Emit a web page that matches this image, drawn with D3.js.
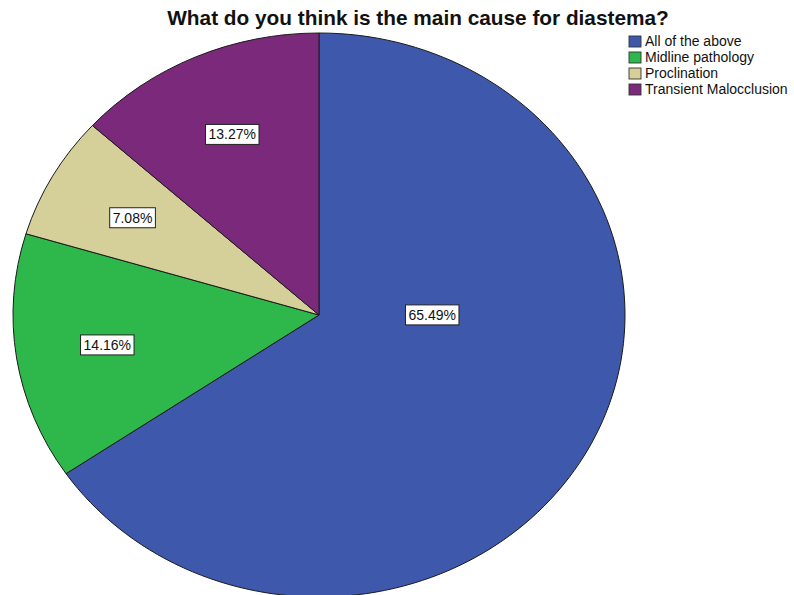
<!DOCTYPE html>
<html>
<head>
<meta charset="utf-8">
<script src="https://cdn.jsdelivr.net/npm/d3@7"></script>
<style>
  html, body { margin: 0; padding: 0; background: #fff; }
  svg { display: block; }
  text { font-family: "Liberation Sans", Arial, sans-serif; }
</style>
</head>
<body>
<svg id="chart" width="794" height="595"></svg>
<script>
// Survey answers: main cause of diastema (percent of respondents)
const categories = ["All of the above", "Midline pathology", "Proclination", "Transient Malocclusion"];
const percentages = [65.49, 14.16, 7.08, 13.27];
const colors = ["#3e58ab", "#2eb84b", "#d5cf9a", "#7b2a7b"];
const title = "What do you think is the main cause for diastema?";

const cx = 319, cy = 315;       // pie centre
const rx = 306, ry = 282;       // slightly oval pie

const svg = d3.select("#chart");

svg.append("text")
  .attr("x", 418).attr("y", 25)
  .attr("text-anchor", "middle")
  .attr("font-size", 20.8).attr("font-weight", "bold")
  .attr("fill", "#111")
  .text(title);

const data = categories.map((c, i) => ({ name: c, value: percentages[i], color: colors[i] }));

const pie = d3.pie().sort(null).value(d => d.value).startAngle(0).endAngle(2 * Math.PI);
const arcs = pie(data);
const arc = d3.arc().innerRadius(0).outerRadius(rx);

const pieG = svg.append("g")
  .attr("transform", `translate(${cx},${cy}) scale(1,${ry / rx})`);

pieG.selectAll("path")
  .data(arcs)
  .enter().append("path")
  .attr("d", arc)
  .attr("fill", d => d.data.color)
  .attr("stroke", "#1a1a1a")
  .attr("stroke-width", 1)
  .attr("vector-effect", "non-scaling-stroke");

// Percentage labels in white boxes
function labelPos(d, i) {
  let a, f;
  if (i === 0) { a = Math.PI / 2; f = 0.37; }       // large slice: label toward 3 o'clock
  else { a = (d.startAngle + d.endAngle) / 2; f = 0.70; }
  return [cx + rx * f * Math.sin(a), cy - ry * f * Math.cos(a)];
}

const labels = svg.append("g").selectAll("g")
  .data(arcs)
  .enter().append("g")
  .attr("transform", (d, i) => { const p = labelPos(d, i); return `translate(${p[0]},${p[1]})`; });

labels.append("text")
  .attr("text-anchor", "middle")
  .attr("dy", "0.35em")
  .attr("font-size", 14)
  .attr("fill", "#111")
  .text(d => d.data.value.toFixed(2) + "%")
  .each(function () {
    const b = this.getBBox();
    d3.select(this.parentNode).insert("rect", "text")
      .attr("x", b.x - 3).attr("y", b.y - 2)
      .attr("width", b.width + 6).attr("height", b.height + 4)
      .attr("fill", "#fff")
      .attr("stroke", "#222").attr("stroke-width", 1);
  });

// Legend
const legend = svg.append("g").attr("transform", "translate(629,36)");
const rows = legend.selectAll("g")
  .data(data)
  .enter().append("g")
  .attr("transform", (d, i) => `translate(0,${i * 16})`);

rows.append("rect")
  .attr("width", 12).attr("height", 11)
  .attr("fill", d => d.color)
  .attr("stroke", "#333").attr("stroke-width", 0.9);

rows.append("text")
  .attr("x", 16).attr("y", 5.5)
  .attr("dy", "0.35em")
  .attr("font-size", 14)
  .attr("fill", "#111")
  .text(d => d.name);
</script>
</body>
</html>
